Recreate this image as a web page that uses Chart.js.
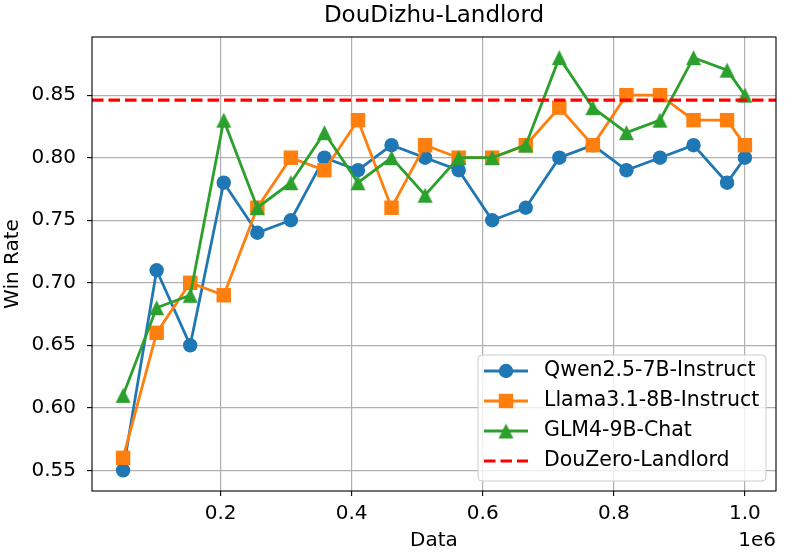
<!DOCTYPE html>
<html>
<head>
<meta charset="utf-8">
<script src="https://cdn.jsdelivr.net/npm/chart.js"></script>
<style>
  html, body { margin: 0; padding: 0; background: #fff; }
  #wrap { width: 792px; height: 555px; }
</style>
</head>
<body>
<div id="wrap"><canvas id="chart" width="792" height="555"></canvas></div>
<script>
// training data sizes (x) and win rates per model
const dataSizes = [51200, 102400, 153600, 204800, 256000, 307200, 358400, 409600, 460800, 512000,
                   563200, 614400, 665600, 716800, 768000, 819200, 870400, 921600, 972800, 1000000];
const qwenRates  = [0.55, 0.71, 0.65, 0.78, 0.74, 0.75, 0.80, 0.79, 0.81, 0.80,
                    0.79, 0.75, 0.76, 0.80, 0.81, 0.79, 0.80, 0.81, 0.78, 0.80];
const llamaRates = [0.56, 0.66, 0.70, 0.69, 0.76, 0.80, 0.79, 0.83, 0.76, 0.81,
                    0.80, 0.80, 0.81, 0.84, 0.81, 0.85, 0.85, 0.83, 0.83, 0.81];
const glmRates   = [0.61, 0.68, 0.69, 0.83, 0.76, 0.78, 0.82, 0.78, 0.80, 0.77,
                    0.80, 0.80, 0.81, 0.88, 0.84, 0.82, 0.83, 0.88, 0.87, 0.85];
const douzeroRate = 0.846;

const seriesNames = ['Qwen2.5-7B-Instruct', 'Llama3.1-8B-Instruct', 'GLM4-9B-Chat', 'DouZero-Landlord'];
const xTicks = [200000, 400000, 600000, 800000, 1000000];
const yTicks = [0.55, 0.60, 0.65, 0.70, 0.75, 0.80, 0.85];
const xRange = [3760, 1047440];
const yRange = [0.5335, 0.8965];

const FONT = "'DejaVu Sans', sans-serif";
const BLUE = '#1f77b4', ORANGE = '#ff7f0e', GREEN = '#2ca02c', RED = '#ff0000';

// matplotlib style '^' marker: as wide as it is tall, centred on its box
function makeTriangle(color, size) {
    const c = document.createElement('canvas');
    c.width = size + 2;
    c.height = size + 2;
    const g = c.getContext('2d');
    g.fillStyle = color;
    g.beginPath();
    g.moveTo(c.width / 2, 1);
    g.lineTo(1, 1 + size);
    g.lineTo(1 + size, 1 + size);
    g.closePath();
    g.fill();
    return c;
}
const triangle = makeTriangle(GREEN, 15);

function toPoints(values) {
    return dataSizes.map((x, i) => ({ x: x, y: values[i] }));
}

function lineSet(label, values, color, style, radius, order) {
    return {
        label: label,
        data: toPoints(values),
        borderColor: color,
        backgroundColor: color,
        borderWidth: 2.8,
        pointStyle: style,
        pointRadius: radius,
        pointBorderWidth: 0,
        pointBackgroundColor: color,
        tension: 0,
        order: order
    };
}

// frame round the plot, on top of the lines like matplotlib spines
const frame = {
    id: 'frame',
    afterDatasetsDraw(chart) {
        const { ctx, chartArea: a } = chart;
        ctx.save();
        ctx.strokeStyle = '#000';
        ctx.lineWidth = 1.1;
        ctx.strokeRect(a.left, a.top, a.right - a.left, a.bottom - a.top);
        ctx.restore();
    }
};

function drawMarker(ctx, ds, x, y) {
    if (ds.pointRadius === 0) return;
    ctx.fillStyle = ds.pointBackgroundColor;
    if (ds.pointStyle === 'circle') {
        ctx.beginPath();
        ctx.arc(x, y, ds.pointRadius, 0, Math.PI * 2);
        ctx.fill();
    } else if (ds.pointStyle === 'rect') {
        const s = ds.pointRadius * Math.SQRT1_2;
        ctx.fillRect(x - s, y - s, 2 * s, 2 * s);
    } else if (ds.pointStyle instanceof HTMLCanvasElement) {
        const img = ds.pointStyle;
        ctx.drawImage(img, x - img.width / 2, y - img.height / 2);
    }
}

// legend box in the lower right corner of the axes
const legendBox = {
    id: 'legendBox',
    afterDraw(chart) {
        const { ctx, chartArea } = chart;
        const w = 288, h = 126;
        const x0 = chartArea.right - 10 - w;
        const y0 = chartArea.bottom - 10 - h;
        ctx.save();
        ctx.beginPath();
        ctx.roundRect(x0, y0, w, h, 4);
        ctx.fillStyle = 'rgba(255,255,255,0.8)';
        ctx.fill();
        ctx.strokeStyle = '#cccccc';
        ctx.lineWidth = 1;
        ctx.stroke();

        chart.data.datasets.forEach((ds, i) => {
            const cy = y0 + 16 + i * 30;
            ctx.beginPath();
            ctx.strokeStyle = ds.borderColor;
            ctx.lineWidth = ds.borderWidth;
            ctx.setLineDash(ds.borderDash || []);
            ctx.moveTo(x0 + 6, cy);
            ctx.lineTo(x0 + 50, cy);
            ctx.stroke();
            ctx.setLineDash([]);
            drawMarker(ctx, ds, x0 + 28, cy);
            ctx.fillStyle = '#000';
            ctx.font = '20.5px ' + FONT;
            ctx.textAlign = 'left';
            ctx.textBaseline = 'middle';
            ctx.fillText(ds.label, x0 + 66, cy);
        });

        // offset text of the x axis
        ctx.font = '20px ' + FONT;
        ctx.textAlign = 'right';
        ctx.fillText('1e6', chartArea.right, 541);
        ctx.restore();
    }
};

const datasets = [
    lineSet(seriesNames[0], qwenRates, BLUE, 'circle', 7.2, 4),
    lineSet(seriesNames[1], llamaRates, ORANGE, 'rect', 10.2, 3),
    lineSet(seriesNames[2], glmRates, GREEN, triangle, 7.5, 2),
    {
        label: seriesNames[3],
        data: [{ x: xRange[0], y: douzeroRate }, { x: xRange[1], y: douzeroRate }],
        borderColor: RED,
        backgroundColor: RED,
        borderWidth: 3.2,
        borderDash: [11.5, 5],
        pointRadius: 0,
        order: 1
    }
];

const gridStyle = {
    color: '#b0b0b0',
    lineWidth: 1.2,
    tickColor: '#000',
    tickLength: 5,
    tickWidth: 1.1
};

new Chart(document.getElementById('chart'), {
    type: 'line',
    data: { datasets: datasets },
    plugins: [frame, legendBox],
    options: {
        responsive: false,
        animation: false,
        devicePixelRatio: 1,
        layout: { padding: { left: 0, right: 16, top: 0, bottom: 0 } },
        plugins: {
            legend: { display: false },
            tooltip: { enabled: false },
            title: {
                display: true,
                text: 'DouDizhu-Landlord',
                color: '#000',
                fullSize: false,
                font: { family: FONT, size: 23, weight: 'normal', lineHeight: 1.2 },
                padding: { top: 2, bottom: 7.4 }
            }
        },
        scales: {
            x: {
                type: 'linear',
                min: xRange[0],
                max: xRange[1],
                afterBuildTicks: s => { s.ticks = xTicks.map(v => ({ value: v })); },
                afterFit: s => { s.height = 64; },
                grid: gridStyle,
                border: { display: false },
                ticks: {
                    color: '#000',
                    padding: 6,
                    maxRotation: 0,
                    font: { family: FONT, size: 20 },
                    callback: v => (v / 1e6).toFixed(1)
                },
                title: {
                    display: true,
                    text: 'Data',
                    color: '#000',
                    font: { family: FONT, size: 20, lineHeight: 0.85 },
                    padding: { top: 0, bottom: 5.5 }
                }
            },
            y: {
                min: yRange[0],
                max: yRange[1],
                afterBuildTicks: s => { s.ticks = yTicks.map(v => ({ value: v })); },
                afterFit: s => { s.width = 92; },
                grid: gridStyle,
                border: { display: false },
                ticks: {
                    color: '#000',
                    padding: 11,
                    font: { family: FONT, size: 20 },
                    callback: v => v.toFixed(2)
                },
                title: {
                    display: true,
                    text: 'Win Rate',
                    color: '#000',
                    font: { family: FONT, size: 20, lineHeight: 0.85 },
                    padding: { top: 4, bottom: 0 }
                }
            }
        }
    }
});
</script>
</body>
</html>
